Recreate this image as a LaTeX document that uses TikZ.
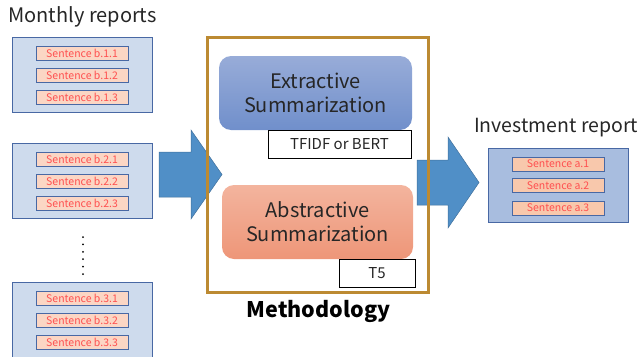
\documentclass[tikz,border=0pt]{standalone}
\usepackage{fontspec}
\setmainfont{Noto Sans CJK JP}
\usetikzlibrary{positioning}
\definecolor{repfill}{RGB}{206,219,237}
\definecolor{invfill}{RGB}{168,189,223}
\definecolor{repline}{RGB}{72,104,164}
\definecolor{sentfill}{RGB}{251,214,196}
\definecolor{invsent}{RGB}{248,200,172}
\definecolor{sentred}{RGB}{255,80,80}
\definecolor{arrowblue}{RGB}{80,143,199}
\definecolor{arrowline}{RGB}{64,112,156}
\definecolor{frameline}{RGB}{188,138,50}
\definecolor{textgray}{RGB}{38,38,38}

\begin{document}
\begin{tikzpicture}[x=1pt, y=-1pt,
  report/.style={draw=repline, fill=repfill, line width=0.8pt, minimum width=140pt, minimum height=75pt, inner sep=0pt},
  sentence/.style={draw=repline, fill=sentfill, line width=0.8pt, minimum width=92pt, minimum height=14pt, inner sep=0pt, text=sentred, font=\fontsize{10.5}{11}\selectfont},
  summary/.style={rounded corners=12pt, minimum width=193pt, minimum height=74pt, align=center, text=textgray, font=\fontsize{20}{24}\selectfont},
  model/.style={draw=black, fill=white, line width=0.6pt, minimum height=28pt, inner sep=0pt, text=textgray, font=\fontsize{15}{16}\selectfont},
  title/.style={text=textgray, inner sep=0pt, font=\fontsize{20}{22}\selectfont},
  bigarrow/.style={fill=arrowblue, draw=arrowline, line width=0.5pt}]
  \useasboundingbox (0,0) rectangle (642,356);
  \clip (0,0) rectangle (642,356);

  % monthly reports
  \node[title, anchor=base west] (monthly) at (8,22) {Monthly reports};
  \foreach \i/\y in {1/75, 2/181, 3/320} {
    \node[report] (mon\i) at (82,\y) {};
    \node[sentence] (s\i1) at (82,\y-21.5) {Sentence b.\i.1};
    \node[sentence] (s\i2) at (82,\y+0.5) {Sentence b.\i.2};
    \node[sentence] (s\i3) at (82,\y+22.5) {Sentence b.\i.3};
  }
  \foreach \k in {0,...,5}
    \fill (83,237+7.4*\k) circle (1pt);

  % block arrows
  \draw[bigarrow] (159,152) -- (191,152) -- (191,130) -- (222,174.5) -- (191,219) -- (191,197) -- (159,197) -- cycle;
  \draw[bigarrow] (417,160) -- (448,160) -- (448,137) -- (479,182.5) -- (448,228) -- (448,205) -- (417,205) -- cycle;

  % methodology
  \node[draw=frameline, line width=3pt, minimum width=221pt, minimum height=255pt, inner sep=0pt] (method) at (317.5,164.5) {};
  \node[title, font=\fontsize{21.5}{22}\selectfont\bfseries, text=black, anchor=base] (methodlabel) at (318.5,317) {Methodology};
  \node[summary, top color={rgb,255:red,152;green,172;blue,216}, bottom color={rgb,255:red,112;green,143;blue,203}] (extract) at (315.5,93) {Extractive\\Summarization};
  \node[summary, minimum width=191pt, top color={rgb,255:red,243;green,180;blue,158}, bottom color={rgb,255:red,238;green,150;blue,120}] (abstract) at (317.5,222) {Abstractive\\Summarization};
  \node[model, minimum width=143pt] (tfidf) at (339.5,144) {TFIDF or BERT};
  \node[model, minimum width=76pt] (tfive) at (377,273) {T5};

  % investment report
  \node[title, font=\fontsize{19.5}{22}\selectfont, anchor=base west] (invest) at (474,132) {Investment report};
  \node[report, fill=invfill, minimum height=74pt] (inv) at (558,185) {};
  \node[sentence, fill=invsent] (a1) at (558,164) {Sentence a.1};
  \node[sentence, fill=invsent] (a2) at (558,185.5) {Sentence a.2};
  \node[sentence, fill=invsent] (a3) at (558,208) {Sentence a.3};
\end{tikzpicture}
\end{document}
